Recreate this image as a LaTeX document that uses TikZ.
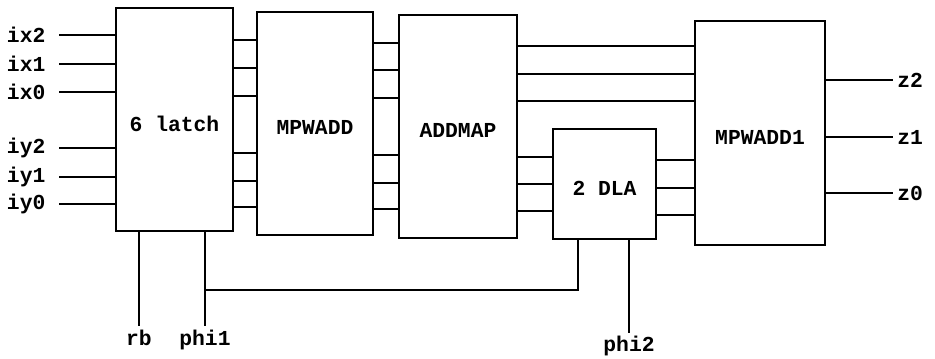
\documentclass[tikz,border=0pt]{standalone}
\usepackage{fontspec}
\newfontfamily\chipfont{Liberation Mono}
\usetikzlibrary{positioning,fit,calc}

\begin{document}
\begin{tikzpicture}[x=0.75pt,y=-0.75pt,
    block/.style={draw=black,line width=1.8pt,inner sep=0pt},
    blocklabel/.style={yshift=-3pt,font=\chipfont\bfseries\fontsize{16}{18}\selectfont},
    pin/.style={inner sep=3pt,font=\chipfont\bfseries\fontsize{16}{18}\selectfont},
    wire/.style={line width=1.3pt}
  ]
    \useasboundingbox (0,0) rectangle (935,359);
    \node[block,fit={(116,8) (233,231)},label={[blocklabel]center:6 latch}] (latch) {};
    \node[block,fit={(257,12) (373,235)},label={[blocklabel]center:MPWADD}] (mpwadd) {};
    \node[block,fit={(399,15) (517,238)},label={[blocklabel]center:ADDMAP}] (addmap) {};
    \node[block,fit={(553,129) (656,239)},label={[blocklabel]center:2 DLA}] (dla) {};
    \node[block,fit={(695,21) (825,245)},label={[blocklabel]center:MPWADD1}] (mpwadd1) {};
    \foreach \lab/\y in {ix2/35,ix1/64,ix0/92,iy2/148,iy1/177,iy0/204} {
      \node[pin,inner xsep=10pt,anchor=east] (\lab) at (59,\y) {\lab};
      \draw[wire] (\lab.east) -- (latch.west |- \lab.east);
    }
    \foreach \y in {40,68,96,153,181,207}
      \draw[wire] (latch.east |- 0,\y) -- (mpwadd.west |- 0,\y);
    \foreach \y in {43,70,98,155,183,209}
      \draw[wire] (mpwadd.east |- 0,\y) -- (addmap.west |- 0,\y);
    \foreach \y in {46,74,101}
      \draw[wire] (addmap.east |- 0,\y) -- (mpwadd1.west |- 0,\y);
    \foreach \y in {157,184,211}
      \draw[wire] (addmap.east |- 0,\y) -- (dla.west |- 0,\y);
    \foreach \y in {160,188,215}
      \draw[wire] (dla.east |- 0,\y) -- (mpwadd1.west |- 0,\y);
    \foreach \lab/\y in {z2/80,z1/137,z0/193} {
      \node[pin,anchor=west] (\lab) at (893,\y) {\lab};
      \draw[wire] (mpwadd1.east |- \lab.west) -- (\lab.west);
    }
    \node[pin,anchor=north] (rb) at (139,326) {rb};
    \node[pin,anchor=north] (phi1) at (205,326) {phi1};
    \node[pin,inner ysep=2pt,anchor=north] (phi2) at (629,333) {phi2};
    \coordinate (tap) at (205,290);
    \draw[wire] (latch.south -| rb.north) -- (rb.north);
    \draw[wire] (latch.south -| phi1.north) -- (phi1.north);
    \draw[wire] (tap) -| (dla.south -| 578,0);
    \draw[wire] (dla.south -| phi2.north) -- (phi2.north);
  \end{tikzpicture}
\end{document}
